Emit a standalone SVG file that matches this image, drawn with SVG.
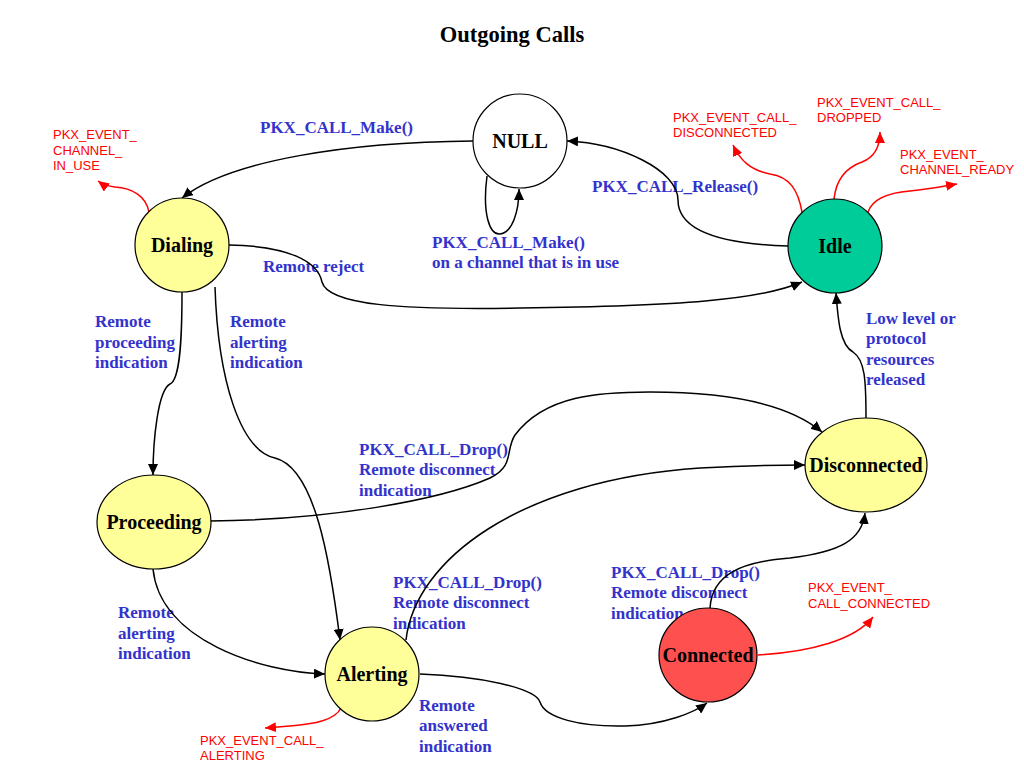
<svg xmlns="http://www.w3.org/2000/svg" width="1024" height="768" viewBox="0 0 1024 768">
<style>
.node{stroke:#000;stroke-width:1.2}
.nt{font-family:"Liberation Serif","Times New Roman",serif;font-weight:bold;font-size:20px;fill:#000;text-anchor:middle}
.lb{font-family:"Liberation Serif","Times New Roman",serif;font-weight:bold;font-size:17px;fill:#3333CC}
.ev{font-family:"Liberation Sans",Arial,sans-serif;font-size:13px;fill:#FF0000}
.e{fill:none;stroke:#000;stroke-width:1.5;marker-end:url(#ah)}
.r{fill:none;stroke:#FF0000;stroke-width:1.5;marker-end:url(#rh)}
</style>
<defs>
<marker id="ah" markerUnits="userSpaceOnUse" markerWidth="12" markerHeight="10" refX="11" refY="5" orient="auto"><path d="M0,0 L11,5 L0,10 z" fill="#000"/></marker>
<marker id="rh" markerUnits="userSpaceOnUse" markerWidth="12" markerHeight="10" refX="11" refY="5" orient="auto"><path d="M0,0 L11,5 L0,10 z" fill="#FF0000"/></marker>
</defs>
<rect width="1024" height="768" fill="#fff"/>
<text x="512" y="42" class="nt" style="font-size:22.5px">Outgoing Calls</text>

<g id="labels">
<text class="lb" x="260" y="133">PKX_CALL_Make()</text>
<text class="lb" x="592" y="192">PKX_CALL_Release()</text>
<text class="lb" x="432" y="248">PKX_CALL_Make()</text>
<text class="lb" x="432" y="268">on a channel that is in use</text>
<text class="lb" x="263" y="272">Remote reject</text>
<text class="lb" x="95" y="327">Remote</text>
<text class="lb" x="95" y="348">proceeding</text>
<text class="lb" x="95" y="368">indication</text>
<text class="lb" x="230" y="327">Remote</text>
<text class="lb" x="230" y="348">alerting</text>
<text class="lb" x="230" y="368">indication</text>
<text class="lb" x="359" y="455">PKX_CALL_Drop()</text>
<text class="lb" x="359" y="475">Remote disconnect</text>
<text class="lb" x="359" y="496">indication</text>
<text class="lb" x="393" y="588">PKX_CALL_Drop()</text>
<text class="lb" x="393" y="608">Remote disconnect</text>
<text class="lb" x="393" y="629">indication</text>
<text class="lb" x="611" y="578">PKX_CALL_Drop()</text>
<text class="lb" x="611" y="598">Remote disconnect</text>
<text class="lb" x="611" y="619">indication</text>
<text class="lb" x="866" y="324">Low level or</text>
<text class="lb" x="866" y="344">protocol</text>
<text class="lb" x="866" y="365">resources</text>
<text class="lb" x="866" y="385">released</text>
<text class="lb" x="118" y="618">Remote</text>
<text class="lb" x="118" y="639">alerting</text>
<text class="lb" x="118" y="659">indication</text>
<text class="lb" x="419" y="711">Remote</text>
<text class="lb" x="419" y="731">answered</text>
<text class="lb" x="419" y="752">indication</text>
<text class="ev" x="53" y="139">PKX_EVENT_</text>
<text class="ev" x="53" y="155">CHANNEL_</text>
<text class="ev" x="53" y="170">IN_USE</text>
<text class="ev" x="673" y="122">PKX_EVENT_CALL_</text>
<text class="ev" x="673" y="137">DISCONNECTED</text>
<text class="ev" x="817" y="107">PKX_EVENT_CALL_</text>
<text class="ev" x="817" y="122">DROPPED</text>
<text class="ev" x="900" y="159">PKX_EVENT_</text>
<text class="ev" x="900" y="174">CHANNEL_READY</text>
<text class="ev" x="808" y="592">PKX_EVENT_</text>
<text class="ev" x="808" y="608">CALL_CONNECTED</text>
<text class="ev" x="200" y="745">PKX_EVENT_CALL_</text>
<text class="ev" x="200" y="760">ALERTING</text>
</g>

<g id="connectors">
<path class="e" d="M473,141 C350,142 230,160 182,198"/>
<path class="e" d="M487,176 C482,215 490,235 500,234 C512,233 519,212 519,189"/>
<path class="e" d="M788,246 C720,244 678,230 678,200 C678,170 620,143 567,141"/>
<path class="e" d="M229,245 C290,246 318,262 322,282 C328,305 400,310 520,308 C680,306 760,300 802,282"/>
<path class="e" d="M182,292 C182,340 180,380 170,384 C158,390 153,440 153,475"/>
<path class="e" d="M215,287 C218,380 240,450 275,458 C315,468 330,560 340,640"/>
<path class="e" d="M210,521 C330,520 440,500 490,478 C515,466 505,450 515,435 C545,395 600,392 650,392 C730,392 790,405 822,432"/>
<path class="e" d="M153,569 C160,640 260,672 325,674"/>
<path class="e" d="M406,640 C415,560 520,480 700,468 C740,466 780,465 805,465"/>
<path class="e" d="M710,608 C712,575 740,562 790,558 C840,552 862,540 865,513"/>
<path class="e" d="M420,674 C480,676 535,688 540,702 C545,718 580,727 625,726 C665,725 695,712 707,703"/>
<path class="e" d="M866,418 C866,380 865,360 853,352 C840,345 838,320 836,293"/>
<path class="r" d="M149,212 C146,196 132,188 115,187 C108,186 102,184 98,181"/>
<path class="r" d="M802,212 C798,190 790,177 770,174 C750,170 740,160 733,145"/>
<path class="r" d="M834,199 C836,180 845,168 862,162 C875,157 880,145 880,132"/>
<path class="r" d="M868,212 C872,200 885,193 910,191 C930,189 945,186 957,184"/>
<path class="r" d="M758,655 C810,652 855,640 873,617"/>
<path class="r" d="M341,708 C335,720 315,724 290,726 L265,728"/>
</g>

<g id="NULL"><ellipse class="node" cx="520" cy="141" rx="47" ry="47" fill="#fff"/><text class="nt" x="520" y="148">NULL</text></g>
<g id="Dialing"><ellipse class="node" cx="182" cy="245" rx="47" ry="47" fill="#FFFF99"/><text class="nt" x="182" y="252">Dialing</text></g>
<g id="Idle"><ellipse class="node" cx="835" cy="246" rx="47" ry="47" fill="#00CC99"/><text class="nt" x="835" y="253">Idle</text></g>
<g id="Proceeding"><ellipse class="node" cx="154" cy="522" rx="57" ry="47" fill="#FFFF99"/><text class="nt" x="154" y="529">Proceeding</text></g>
<g id="Disconnected"><ellipse class="node" cx="866" cy="465" rx="61" ry="47" fill="#FFFF99"/><text class="nt" x="866" y="472">Disconnected</text></g>
<g id="Alerting"><ellipse class="node" cx="372" cy="674" rx="47" ry="47" fill="#FFFF99"/><text class="nt" x="372" y="681">Alerting</text></g>
<g id="Connected"><ellipse class="node" cx="708" cy="655" rx="49" ry="47" fill="#FF5050"/><text class="nt" x="708" y="662">Connected</text></g>
</svg>
